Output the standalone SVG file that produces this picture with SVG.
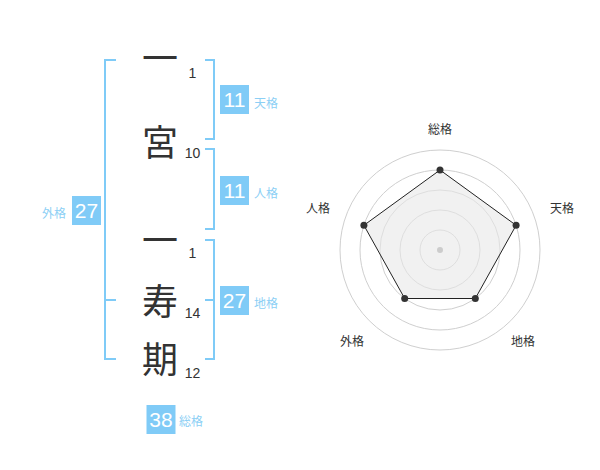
<svg xmlns="http://www.w3.org/2000/svg" width="600" height="470" viewBox="0 0 600 470">
<style>
.ch{font-family:"Noto Sans CJK JP","Noto Sans",sans-serif;font-size:36px;fill:#333;text-anchor:middle}
.num{font-family:"Liberation Sans",Arial,sans-serif;font-size:14px;fill:#333;text-anchor:middle}
.br{fill:none;stroke:#7fcbf7;stroke-width:2}
.box{fill:#80cbf7}
.bv{font-family:"Liberation Sans",Arial,sans-serif;font-size:21px;fill:#fff;text-anchor:middle}
.bl{font-family:"Noto Sans CJK JP","Noto Sans",sans-serif;font-size:12px;fill:#8ccff5}
.ring{fill:none;stroke:#cfcfcf;stroke-width:1}
.rl{font-family:"Noto Sans CJK JP","Noto Sans",sans-serif;font-size:12px;fill:#333;text-anchor:middle}
.pt{fill:#333}
</style>
<rect width="600" height="470" fill="#fff"/>
<g id="connectors">
<path class="br" d="M116,60 H105 V359 H116 M105,300 H116"/>
<path class="br" d="M205,60 H214 V139 H205"/>
<path class="br" d="M205,149 H214 V229 H205"/>
<path class="br" d="M205,240 H214 V359 H205 M205,300 H214"/>
</g>
<g id="char1"><text class="ch" x="160" y="72">一</text><text class="num" x="192.5" y="78">1</text></g>
<g id="char2"><text class="ch" x="160" y="156">宮</text><text class="num" x="192.5" y="158">10</text></g>
<g id="char3"><text class="ch" x="160" y="254">一</text><text class="num" x="192.5" y="258">1</text></g>
<g id="char4"><text class="ch" x="160" y="315">寿</text><text class="num" x="192.5" y="318">14</text></g>
<g id="char5"><text class="ch" x="160" y="373">期</text><text class="num" x="192.5" y="378">12</text></g>
<g id="tenkaku"><rect class="box" x="220" y="85" width="29" height="29"/><text class="bv" x="234.5" y="107">11</text><text class="bl" x="254" y="108">天格</text></g>
<g id="jinkaku"><rect class="box" x="220" y="176" width="29" height="29"/><text class="bv" x="234.5" y="198">11</text><text class="bl" x="254" y="198">人格</text></g>
<g id="chikaku"><rect class="box" x="220" y="286" width="29" height="29"/><text class="bv" x="234.5" y="308">27</text><text class="bl" x="254" y="308">地格</text></g>
<g id="gaikaku"><rect class="box" x="72" y="196" width="29" height="29"/><text class="bv" x="86.5" y="218">27</text><text class="bl" x="66" y="218" text-anchor="end">外格</text></g>
<g id="soukaku"><rect class="box" x="146.5" y="405" width="29" height="29"/><text class="bv" x="161" y="427">38</text><text class="bl" x="179" y="426">総格</text></g>
<g id="radar">
<circle class="ring" cx="440" cy="250" r="20"/>
<circle class="ring" cx="440" cy="250" r="40"/>
<circle class="ring" cx="440" cy="250" r="60"/>
<circle class="ring" cx="440" cy="250" r="80"/>
<circle class="ring" cx="440" cy="250" r="100"/>
<polygon points="440,170 516.1,225.3 475.3,298.5 404.7,298.5 363.9,225.3" fill="#e8e8e8" fill-opacity="0.6" stroke="#222" stroke-width="1"/>
<circle cx="440" cy="250" r="3" fill="#ccc"/>
<circle class="pt" cx="440" cy="170" r="3.5"/>
<circle class="pt" cx="516.1" cy="225.3" r="3.5"/>
<circle class="pt" cx="475.3" cy="298.5" r="3.5"/>
<circle class="pt" cx="404.7" cy="298.5" r="3.5"/>
<circle class="pt" cx="363.9" cy="225.3" r="3.5"/>
<text class="rl" x="440" y="134">総格</text>
<text class="rl" x="562" y="213">天格</text>
<text class="rl" x="318" y="213">人格</text>
<text class="rl" x="352" y="346">外格</text>
<text class="rl" x="523" y="346">地格</text>
</g>
</svg>
